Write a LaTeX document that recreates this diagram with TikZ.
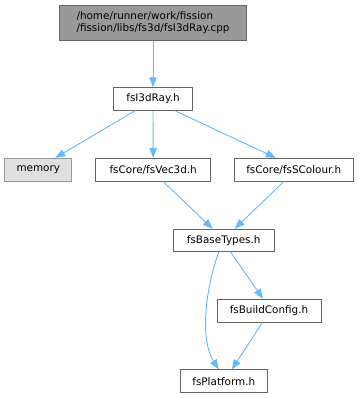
\documentclass[tikz,border=0pt]{standalone}
\usepackage{fontspec}
\setmainfont{DejaVu Sans}
\usetikzlibrary{arrows.meta}
\definecolor{edgeblue}{HTML}{63B8FF}
\definecolor{boxborder}{HTML}{666666}
\definecolor{topfill}{HTML}{999999}
\definecolor{memfill}{HTML}{E0E0E0}
\definecolor{memborder}{HTML}{999999}
\tikzset{
  filebox/.style={draw=boxborder, fill=white, line width=1pt, inner sep=0pt, font=\fontsize{10.4}{12.5}\selectfont, text=black},
  topbox/.style={filebox, fill=topfill, align=left},
  sysbox/.style={filebox, draw=memborder, fill=memfill},
  dep/.style={draw=edgeblue, line width=0.9pt, -{Triangle[length=10pt,width=7.5pt]}}
}
\begin{document}
\begin{tikzpicture}[x=1pt,y=-1pt]
\useasboundingbox (0,0) rectangle (363,399);
\node[topbox, minimum width=187pt, minimum height=35pt] (top) at (153,22.5) {/home/runner/work/fission\\/fission/libs/fs3d/fsI3dRay.cpp};
\node[filebox, minimum width=79pt, minimum height=22.5pt] (ray) at (153,99) {fsI3dRay.h};
\node[sysbox, minimum width=66.7pt, minimum height=22.7pt] (mem) at (38.3,169.7) {memory};
\node[filebox, minimum width=115pt, minimum height=22.7pt] (vec) at (153.2,169.7) {fsCore/fsVec3d.h};
\node[filebox, minimum width=119pt, minimum height=22.7pt] (col) at (293.8,169.7) {fsCore/fsSColour.h};
\node[filebox, minimum width=100.7pt, minimum height=22.4pt] (base) at (223.7,240.5) {fsBaseTypes.h};
\node[filebox, minimum width=104pt, minimum height=23.4pt] (cfg) at (269,311) {fsBuildConfig.h};
\node[filebox, minimum width=87pt, minimum height=22.7pt] (plat) at (223.8,381.3) {fsPlatform.h};

\draw[dep] (top.south) -- (ray.north);
\draw[dep] ([xshift=-18pt]ray.south) -- ([xshift=17pt]mem.north);
\draw[dep] (ray.south) -- (vec.north);
\draw[dep] ([xshift=22pt]ray.south) -- ([xshift=-18pt]col.north);
\draw[dep] ([xshift=10pt]vec.south) -- ([xshift=-11pt]base.north);
\draw[dep] ([xshift=-10pt]col.south) -- ([xshift=11pt]base.north);
\draw[dep] ([xshift=-5pt]base.south) .. controls (205,290) and (200,340) .. ([xshift=-5pt]plat.north);
\draw[dep] ([xshift=7pt]base.south) -- ([xshift=-6pt]cfg.north);
\draw[dep] ([xshift=-7pt]cfg.south) -- ([xshift=8pt]plat.north);
\end{tikzpicture}
\end{document}
